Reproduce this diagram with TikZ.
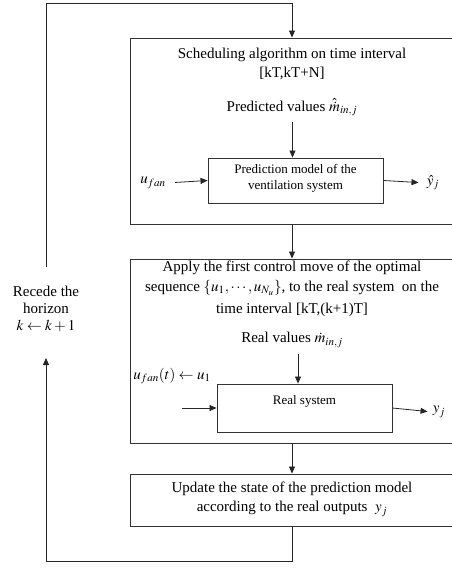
\documentclass[tikz,border=0pt]{standalone}
\usepackage{mathptmx}
\usepackage{fontspec}
\setmainfont{Liberation Serif}
\usetikzlibrary{arrows.meta}
\begin{document}
\begin{tikzpicture}[x=1pt,y=-1pt,
  line width=0.8pt,
  box/.style={draw=black!80, line width=0.9pt, rectangle, inner sep=0pt},
  arr/.style={draw=black!85, -{Triangle[length=7pt,width=6pt]}},
  big/.style={font=\fontsize{15}{17}\selectfont, inner sep=0pt, align=center},
  small/.style={font=\fontsize{13}{16}\selectfont, inner sep=0pt, align=center}]
\useasboundingbox (0,0) rectangle (452,568);
% main boxes
\node[box, minimum width=324pt, minimum height=186pt] (b1) at (292,131) {};
\node[box, minimum width=324pt, minimum height=184pt] (b2) at (292,351) {};
\node[box, minimum width=324pt, minimum height=52pt] (b3) at (292,500) {};
% inner boxes
\node[box, minimum width=175pt, minimum height=45pt] (in1) at (295.5,180.5) {};
\node[box, minimum width=175pt, minimum height=48pt] (in2) at (304.5,408) {};
% texts box 1
\node[big] (t1a) at (292,55) {Scheduling algorithm on time interval};
\node[big] (t1b) at (292,73) {[kT,kT+N]};
\node[big] (pv) at (292,107) {Predicted values $\hat{\dot{m}}_{in,j}$};
\node[small] (in1t) at (295.5,178) {Prediction model of the\\ventilation system};
\node[big] (ufan) at (153,183) {$u_{fan}$};
\node[big] (yhat) at (433,183) {$\hat{y}_j$};
% texts box 2
\node[big] (t2a) at (292,268) {Apply the first control move of the optimal};
\node[big] (t2b) at (292,288) {sequence $\{u_1,\cdots,u_{N_u}\}$, to the real system\ \ on the};
\node[big] (t2c) at (292,310) {time interval [kT,(k+1)T]};
\node[big] (rv) at (292,340) {Real values $\dot{m}_{in,j}$};
\node[big] (uft) at (172,376) {$u_{fan}(t)\leftarrow u_1$};
\node[small] (rst) at (304.5,401) {Real system};
\node[big] (yj) at (439,412) {$y_j$};
% texts box 3
\node[big] (t3a) at (292,489) {Update the state of the prediction model};
\node[big] (t3b) at (292,509) {according to the real outputs\ \ $y_j$};
% recede label
\node[big] (rc) at (46,309) {Recede the\\horizon\\$k\leftarrow k+1$};
% connectors
\coordinate (tl) at (46,267);
\coordinate (tc) at (46,3);
\coordinate (bl) at (46,561);
\coordinate (ah) at (46,358);
\coordinate (src2) at (182,408);
\draw[arr] (tl) -- (tc) -| (b1.north);
\draw[arr] (b1.south) -- (b2.north);
\draw[arr] (b2.south) -- (b3.north);
\draw[arr] (b3.south) |- (bl) -- (ah);
\draw[arr, shorten <=6pt] (pv.south -| in1t) ++(-3,0) -- ([xshift=-3pt]in1.north);
\draw[arr, shorten <=9pt] (ufan.east) -- (in1.west);
\draw[arr, shorten >=8pt] (in1.east) -- (yhat.west);
\draw[arr, shorten <=6pt] ([xshift=6pt]rv.south) -- ([xshift=6pt]rv.south |- in2.north);
\draw[arr] (src2) -- (in2.west);
\draw[arr, shorten >=5pt] (in2.east) -- (yj.west);
\end{tikzpicture}
\end{document}
